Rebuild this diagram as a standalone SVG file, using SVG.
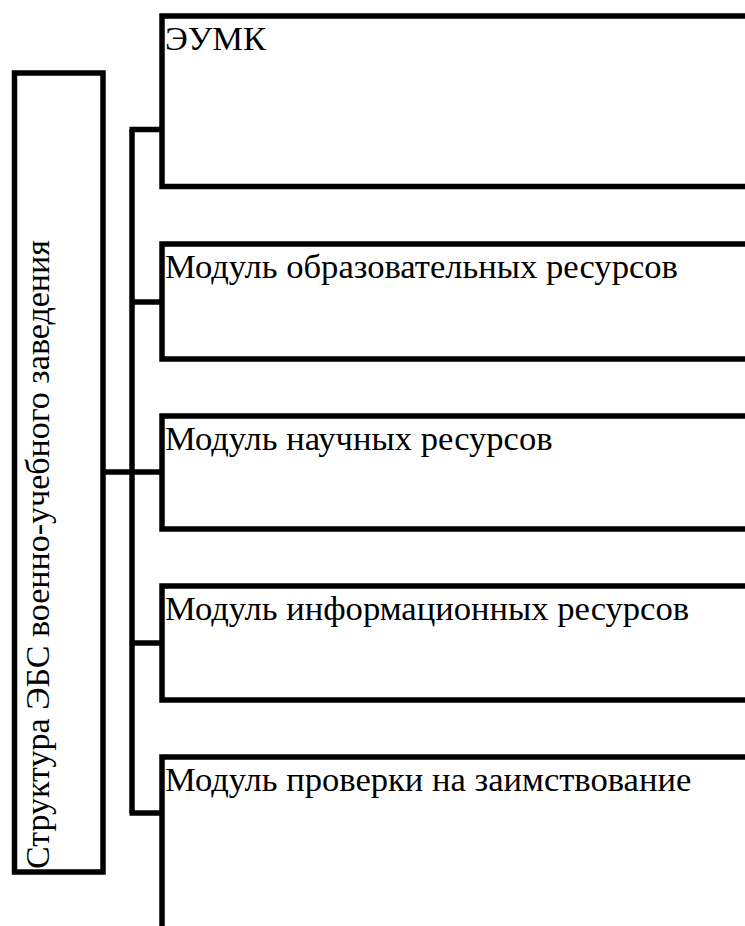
<svg xmlns="http://www.w3.org/2000/svg" width="745" height="926" viewBox="0 0 745 926">
<style>
.box{fill:none;stroke:#000;stroke-width:5.5}
.ln{fill:none;stroke:#000;stroke-width:5.5}
.t{font-family:"Liberation Serif","Times New Roman",serif;font-size:34.6px;fill:#000}
.v{font-size:34px}
</style>
<rect x="0" y="0" width="745" height="926" fill="#fff"/>
<g id="connectors">
<line class="ln" x1="132" y1="129.5" x2="132" y2="813"/>
<line class="ln" x1="129.5" y1="129.5" x2="162" y2="129.5"/>
<line class="ln" x1="132" y1="302" x2="162" y2="302"/>
<line class="ln" x1="103" y1="472" x2="162" y2="472"/>
<line class="ln" x1="132" y1="643" x2="162" y2="643"/>
<line class="ln" x1="129.5" y1="813" x2="162" y2="813"/>
</g>
<g id="root">
<rect class="box" x="14.5" y="73" width="88.5" height="799"/>
<text class="t v" transform="translate(49,869) rotate(-90)">Структура ЭБС военно-учебного заведения</text>
</g>
<g id="n1">
<rect class="box" x="162" y="16" width="600" height="170.5"/>
<text class="t" x="165" y="50">ЭУМК</text>
</g>
<g id="n2">
<rect class="box" x="162" y="244" width="600" height="115"/>
<text class="t" x="165" y="278">Модуль образовательных ресурсов</text>
</g>
<g id="n3">
<rect class="box" x="162" y="416" width="600" height="113"/>
<text class="t" x="165" y="450">Модуль научных ресурсов</text>
</g>
<g id="n4">
<rect class="box" x="162" y="586" width="600" height="114"/>
<text class="t" x="165" y="620">Модуль информационных ресурсов</text>
</g>
<g id="n5">
<rect class="box" x="162" y="757" width="600" height="250"/>
<text class="t" x="165" y="791">Модуль проверки на заимствование</text>
</g>
</svg>
